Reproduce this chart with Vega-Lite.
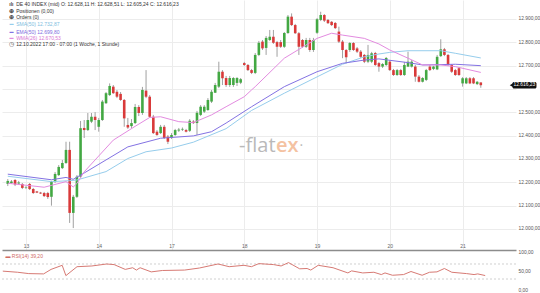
{
  "$schema": "https://vega.github.io/schema/vega-lite/v6.json",
  "padding": 0,
  "spacing": 0,
  "bounds": "flush",
  "config": {
    "view": {"stroke": null},
    "font": "Liberation Sans",
    "axis": {"title": null, "labelFont": "Liberation Sans", "labelFontSize": 5, "labelColor": "#555555", "labelOverlap": false}
  },
  "datasets": {
    "one": [{}],
    "candles": [
      {"i":0,"o":12193,"h":12214,"l":12184,"c":12206},
      {"i":1,"o":12197,"h":12210,"l":12193,"c":12204},
      {"i":2,"o":12210,"h":12214,"l":12184,"c":12191},
      {"i":3,"o":12195,"h":12206,"l":12189,"c":12199},
      {"i":4,"o":12193,"h":12197,"l":12171,"c":12176},
      {"i":5,"o":12178,"h":12184,"l":12171,"c":12180},
      {"i":6,"o":12193,"h":12197,"l":12167,"c":12171},
      {"i":7,"o":12171,"h":12176,"l":12150,"c":12154},
      {"i":8,"o":12161,"h":12163,"l":12154,"c":12156},
      {"i":9,"o":12156,"h":12159,"l":12150,"c":12152},
      {"i":10,"o":12154,"h":12159,"l":12137,"c":12141},
      {"i":11,"o":12154,"h":12159,"l":12129,"c":12137},
      {"i":12,"o":12138,"h":12206,"l":12100,"c":12203},
      {"i":13,"o":12203,"h":12244,"l":12197,"c":12236},
      {"i":14,"o":12231,"h":12274,"l":12227,"c":12266},
      {"i":15,"o":12261,"h":12296,"l":12257,"c":12283},
      {"i":16,"o":12283,"h":12374,"l":12279,"c":12339},
      {"i":17,"o":12339,"h":12374,"l":12026,"c":12069},
      {"i":18,"o":12069,"h":12146,"l":12004,"c":12138},
      {"i":19,"o":12138,"h":12231,"l":12133,"c":12224},
      {"i":20,"o":12224,"h":12463,"l":12219,"c":12432},
      {"i":21,"o":12433,"h":12467,"l":12390,"c":12424},
      {"i":22,"o":12424,"h":12497,"l":12420,"c":12467},
      {"i":23,"o":12460,"h":12497,"l":12454,"c":12481},
      {"i":24,"o":12481,"h":12501,"l":12424,"c":12467},
      {"i":25,"o":12438,"h":12476,"l":12417,"c":12467},
      {"i":26,"o":12467,"h":12553,"l":12463,"c":12546},
      {"i":27,"o":12539,"h":12587,"l":12536,"c":12582},
      {"i":28,"o":12574,"h":12624,"l":12570,"c":12613},
      {"i":29,"o":12610,"h":12617,"l":12579,"c":12582},
      {"i":30,"o":12588,"h":12596,"l":12561,"c":12567},
      {"i":31,"o":12579,"h":12587,"l":12549,"c":12553},
      {"i":32,"o":12553,"h":12557,"l":12438,"c":12474},
      {"i":33,"o":12446,"h":12476,"l":12429,"c":12435},
      {"i":34,"o":12441,"h":12471,"l":12433,"c":12454},
      {"i":35,"o":12454,"h":12536,"l":12450,"c":12523},
      {"i":36,"o":12523,"h":12531,"l":12484,"c":12497},
      {"i":37,"o":12497,"h":12609,"l":12489,"c":12596},
      {"i":38,"o":12593,"h":12681,"l":12561,"c":12567},
      {"i":39,"o":12567,"h":12574,"l":12476,"c":12481},
      {"i":40,"o":12481,"h":12489,"l":12407,"c":12411},
      {"i":41,"o":12417,"h":12424,"l":12399,"c":12403},
      {"i":42,"o":12411,"h":12446,"l":12407,"c":12438},
      {"i":43,"o":12438,"h":12446,"l":12386,"c":12390},
      {"i":44,"o":12396,"h":12403,"l":12364,"c":12374},
      {"i":45,"o":12390,"h":12411,"l":12386,"c":12403},
      {"i":46,"o":12403,"h":12429,"l":12399,"c":12424},
      {"i":47,"o":12422,"h":12433,"l":12416,"c":12426},
      {"i":48,"o":12426,"h":12435,"l":12420,"c":12429},
      {"i":49,"o":12424,"h":12429,"l":12414,"c":12417},
      {"i":50,"o":12421,"h":12471,"l":12416,"c":12464},
      {"i":51,"o":12460,"h":12467,"l":12450,"c":12454},
      {"i":52,"o":12454,"h":12506,"l":12403,"c":12498},
      {"i":53,"o":12489,"h":12531,"l":12484,"c":12524},
      {"i":54,"o":12503,"h":12531,"l":12497,"c":12524},
      {"i":55,"o":12510,"h":12561,"l":12506,"c":12553},
      {"i":56,"o":12546,"h":12596,"l":12540,"c":12588},
      {"i":57,"o":12584,"h":12626,"l":12583,"c":12617},
      {"i":58,"o":12610,"h":12717,"l":12604,"c":12674},
      {"i":59,"o":12674,"h":12681,"l":12617,"c":12646},
      {"i":60,"o":12647,"h":12656,"l":12609,"c":12617},
      {"i":61,"o":12617,"h":12656,"l":12609,"c":12647},
      {"i":62,"o":12617,"h":12651,"l":12609,"c":12647},
      {"i":63,"o":12626,"h":12651,"l":12613,"c":12647},
      {"i":64,"o":12627,"h":12647,"l":12621,"c":12642},
      {"i":65,"o":12711,"h":12716,"l":12699,"c":12703},
      {"i":66,"o":12703,"h":12707,"l":12677,"c":12681},
      {"i":67,"o":12681,"h":12686,"l":12664,"c":12669},
      {"i":68,"o":12669,"h":12754,"l":12664,"c":12746},
      {"i":69,"o":12746,"h":12806,"l":12741,"c":12798},
      {"i":70,"o":12803,"h":12810,"l":12767,"c":12774},
      {"i":71,"o":12776,"h":12827,"l":12746,"c":12819},
      {"i":72,"o":12810,"h":12853,"l":12806,"c":12824},
      {"i":73,"o":12824,"h":12853,"l":12793,"c":12798},
      {"i":74,"o":12801,"h":12806,"l":12738,"c":12781},
      {"i":75,"o":12801,"h":12810,"l":12776,"c":12781},
      {"i":76,"o":12781,"h":12844,"l":12776,"c":12840},
      {"i":77,"o":12840,"h":12917,"l":12836,"c":12910},
      {"i":78,"o":12910,"h":12924,"l":12870,"c":12874},
      {"i":79,"o":12874,"h":12879,"l":12836,"c":12839},
      {"i":80,"o":12839,"h":12844,"l":12746,"c":12781},
      {"i":81,"o":12810,"h":12814,"l":12776,"c":12781},
      {"i":82,"o":12781,"h":12819,"l":12776,"c":12810},
      {"i":83,"o":12810,"h":12819,"l":12759,"c":12767},
      {"i":84,"o":12767,"h":12819,"l":12759,"c":12810},
      {"i":85,"o":12841,"h":12904,"l":12836,"c":12899},
      {"i":86,"o":12896,"h":12931,"l":12891,"c":12917},
      {"i":87,"o":12917,"h":12921,"l":12887,"c":12893},
      {"i":88,"o":12896,"h":12900,"l":12879,"c":12882},
      {"i":89,"o":12888,"h":12891,"l":12870,"c":12874},
      {"i":90,"o":12883,"h":12887,"l":12857,"c":12861},
      {"i":91,"o":12846,"h":12867,"l":12797,"c":12803},
      {"i":92,"o":12803,"h":12810,"l":12732,"c":12767},
      {"i":93,"o":12767,"h":12771,"l":12710,"c":12736},
      {"i":94,"o":12767,"h":12801,"l":12759,"c":12797},
      {"i":95,"o":12797,"h":12801,"l":12763,"c":12767},
      {"i":96,"o":12774,"h":12780,"l":12754,"c":12760},
      {"i":97,"o":12760,"h":12767,"l":12733,"c":12738},
      {"i":98,"o":12746,"h":12750,"l":12711,"c":12717},
      {"i":99,"o":12717,"h":12789,"l":12711,"c":12746},
      {"i":100,"o":12717,"h":12759,"l":12711,"c":12753},
      {"i":101,"o":12754,"h":12759,"l":12699,"c":12703},
      {"i":102,"o":12711,"h":12716,"l":12674,"c":12696},
      {"i":103,"o":12696,"h":12711,"l":12690,"c":12707},
      {"i":104,"o":12703,"h":12737,"l":12699,"c":12733},
      {"i":105,"o":12717,"h":12724,"l":12677,"c":12681},
      {"i":106,"o":12681,"h":12686,"l":12656,"c":12660},
      {"i":107,"o":12660,"h":12686,"l":12656,"c":12681},
      {"i":108,"o":12681,"h":12686,"l":12656,"c":12660},
      {"i":109,"o":12660,"h":12716,"l":12656,"c":12703},
      {"i":110,"o":12696,"h":12760,"l":12694,"c":12717},
      {"i":111,"o":12696,"h":12724,"l":12692,"c":12717},
      {"i":112,"o":12696,"h":12703,"l":12631,"c":12653},
      {"i":113,"o":12653,"h":12660,"l":12628,"c":12631},
      {"i":114,"o":12631,"h":12651,"l":12628,"c":12647},
      {"i":115,"o":12639,"h":12686,"l":12634,"c":12681},
      {"i":116,"o":12696,"h":12703,"l":12677,"c":12681},
      {"i":117,"o":12686,"h":12699,"l":12681,"c":12696},
      {"i":118,"o":12684,"h":12746,"l":12681,"c":12738},
      {"i":119,"o":12741,"h":12813,"l":12737,"c":12770},
      {"i":120,"o":12770,"h":12776,"l":12741,"c":12746},
      {"i":121,"o":12746,"h":12750,"l":12699,"c":12703},
      {"i":122,"o":12703,"h":12707,"l":12669,"c":12674},
      {"i":123,"o":12681,"h":12686,"l":12656,"c":12660},
      {"i":124,"o":12689,"h":12694,"l":12656,"c":12660},
      {"i":125,"o":12624,"h":12651,"l":12610,"c":12646},
      {"i":126,"o":12624,"h":12651,"l":12621,"c":12646},
      {"i":127,"o":12646,"h":12651,"l":12621,"c":12624},
      {"i":128,"o":12646,"h":12651,"l":12621,"c":12624},
      {"i":129,"o":12621,"h":12634,"l":12617,"c":12631},
      {"i":130,"o":12628.11,"h":12628.51,"l":12605.24,"c":12616.23}
    ],
    "ma": [
      {"i":0,"s":"SMA","v":12226},{"i":12,"s":"SMA","v":12203},{"i":17,"s":"SMA","v":12207},{"i":19,"s":"SMA","v":12210},{"i":21,"s":"SMA","v":12219},{"i":27,"s":"SMA","v":12246},{"i":33,"s":"SMA","v":12302},{"i":38,"s":"SMA","v":12331},{"i":45,"s":"SMA","v":12347},{"i":51,"s":"SMA","v":12372},{"i":60,"s":"SMA","v":12430},{"i":67,"s":"SMA","v":12508},{"i":76,"s":"SMA","v":12582},{"i":85,"s":"SMA","v":12652},{"i":92,"s":"SMA","v":12706},{"i":98,"s":"SMA","v":12738},{"i":102,"s":"SMA","v":12750},{"i":105,"s":"SMA","v":12757},{"i":110,"s":"SMA","v":12764},{"i":119,"s":"SMA","v":12764},{"i":123,"s":"SMA","v":12753},{"i":130,"s":"SMA","v":12733},
      {"i":0,"s":"EMA","v":12235},{"i":12,"s":"EMA","v":12211},{"i":16,"s":"EMA","v":12221},{"i":18,"s":"EMA","v":12213},{"i":21,"s":"EMA","v":12240},{"i":27,"s":"EMA","v":12296},{"i":33,"s":"EMA","v":12352},{"i":42,"s":"EMA","v":12389},{"i":51,"s":"EMA","v":12399},{"i":56,"s":"EMA","v":12417},{"i":60,"s":"EMA","v":12454},{"i":67,"s":"EMA","v":12524},{"i":76,"s":"EMA","v":12610},{"i":85,"s":"EMA","v":12674},{"i":92,"s":"EMA","v":12710},{"i":98,"s":"EMA","v":12724},{"i":102,"s":"EMA","v":12729},{"i":110,"s":"EMA","v":12713},{"i":114,"s":"EMA","v":12703},{"i":123,"s":"EMA","v":12706},{"i":130,"s":"EMA","v":12700},
      {"i":0,"s":"WMA","v":12196},{"i":10,"s":"WMA","v":12179},{"i":16,"s":"WMA","v":12203},{"i":18,"s":"WMA","v":12180},{"i":19,"s":"WMA","v":12195},{"i":21,"s":"WMA","v":12245},{"i":27,"s":"WMA","v":12347},{"i":29,"s":"WMA","v":12381},{"i":35,"s":"WMA","v":12440},{"i":39,"s":"WMA","v":12478},{"i":42,"s":"WMA","v":12481},{"i":47,"s":"WMA","v":12460},{"i":51,"s":"WMA","v":12456},{"i":56,"s":"WMA","v":12489},{"i":60,"s":"WMA","v":12524},{"i":65,"s":"WMA","v":12567},{"i":67,"s":"WMA","v":12596},{"i":68,"s":"WMA","v":12610},{"i":76,"s":"WMA","v":12732},{"i":85,"s":"WMA","v":12817},{"i":89,"s":"WMA","v":12839},{"i":92,"s":"WMA","v":12831},{"i":98,"s":"WMA","v":12817},{"i":102,"s":"WMA","v":12793},{"i":105,"s":"WMA","v":12767},{"i":110,"s":"WMA","v":12732},{"i":114,"s":"WMA","v":12703},{"i":119,"s":"WMA","v":12703},{"i":123,"s":"WMA","v":12696},{"i":130,"s":"WMA","v":12671}
    ],
    "rsi": [
      {"i":0,"v":51},{"i":4,"v":48},{"i":7,"v":44.4},{"i":11,"v":43.6},{"i":13,"v":55.6},{"i":16,"v":66.5},{"i":17,"v":39},{"i":20,"v":62.8},{"i":24,"v":64.7},{"i":28,"v":70},{"i":30,"v":68.4},{"i":33,"v":55.6},{"i":35,"v":60},{"i":36,"v":53.8},{"i":37,"v":60},{"i":40,"v":49},{"i":43,"v":52.7},{"i":49,"v":53.8},{"i":53,"v":59.3},{"i":58,"v":70},{"i":61,"v":62.8},{"i":65,"v":66.5},{"i":67,"v":62.8},{"i":69,"v":71},{"i":73,"v":68.4},{"i":75,"v":64.7},{"i":77,"v":73.7},{"i":80,"v":57.2},{"i":82,"v":58},{"i":83,"v":53.8},{"i":85,"v":66.5},{"i":89,"v":60},{"i":93,"v":46.2},{"i":94,"v":51.7},{"i":97,"v":46.2},{"i":100,"v":48},{"i":102,"v":41.8},{"i":103,"v":46.2},{"i":105,"v":40},{"i":108,"v":41.8},{"i":110,"v":50},{"i":113,"v":40},{"i":115,"v":48},{"i":117,"v":49},{"i":119,"v":58},{"i":121,"v":48},{"i":125,"v":44.4},{"i":127,"v":41.8},{"i":128,"v":43.6},{"i":130,"v":39.2}
    ]
  },
  "vconcat": [
    {
      "width": 514,
      "height": 250,
      "resolve": {"axis": {"x": "independent", "y": "independent"}},
      "layer": [
        {
          "data": {"name": "candles"},
          "mark": {"type": "rule", "color": "#a0a0a0", "strokeWidth": 1, "clip": true},
          "encoding": {
            "x": {
              "field": "i", "type": "quantitative",
              "scale": {"domain": [-0.216, 138.3], "nice": false, "zero": false},
              "axis": {
                "values": [5, 25, 45, 65, 85, 105, 125],
                "labelExpr": "datum.value==5?'13':datum.value==25?'14':datum.value==45?'17':datum.value==65?'18':datum.value==85?'19':datum.value==105?'20':'21'",
                "grid": true, "gridColor": "#ececec", "gridWidth": 1,
                "ticks": false, "tickSize": 0,
                "domain": true, "domainColor": "#8c8c8c", "domainWidth": 1.5,
                "labelPadding": -2.5, "labelBaseline": "alphabetic", "labelFlush": false,
                "labelColor": "#666666", "labelFontSize": 5
              }
            },
            "y": {
              "field": "l", "type": "quantitative",
              "scale": {"domain": [11910, 12981.4], "nice": false, "zero": false},
              "axis": {
                "orient": "right",
                "values": [12000, 12100, 12200, 12300, 12400, 12500, 12600, 12700, 12800, 12900],
                "labelExpr": "datum.value==12600?'':replace(replace(replace(format(datum.value, ',.2f'), ',', '#'), '.', ','), '#', '.')",
                "grid": true, "gridColor": "#ececec", "gridWidth": 1,
                "ticks": false, "tickSize": 0, "domain": false,
                "labelPadding": 2, "labelFontSize": 4.9, "labelColor": "#555555", "labelBaseline": "middle"
              }
            },
            "y2": {"field": "h"}
          }
        },
        {
          "data": {"name": "candles"},
          "mark": {"type": "bar", "width": 2.6, "clip": true},
          "encoding": {
            "x": {"field": "i", "type": "quantitative", "axis": null},
            "y": {"field": "o", "type": "quantitative", "axis": null},
            "y2": {"field": "c"},
            "color": {"condition": {"test": "datum.c >= datum.o", "value": "#43a843"}, "value": "#d93a3a"}
          }
        },
        {
          "data": {"name": "ma"},
          "mark": {"type": "line", "strokeWidth": 1, "clip": true},
          "encoding": {
            "x": {"field": "i", "type": "quantitative", "axis": null},
            "y": {"field": "v", "type": "quantitative", "axis": null},
            "color": {"field": "s", "type": "nominal", "scale": {"domain": ["SMA", "EMA", "WMA"], "range": ["#96cdec", "#8372e3", "#e38be0"]}, "legend": null},
            "detail": {"field": "s"}
          }
        },
        {
          "data": {"name": "one"},
          "mark": {"type": "text", "text": "-flat", "align": "right", "baseline": "alphabetic", "font": "Open Sans", "fontSize": 20, "color": "#b9b9b9"},
          "encoding": {"x": {"datum": 73.6, "type": "quantitative", "axis": null}, "y": {"datum": 12330, "type": "quantitative", "axis": null}}
        },
        {
          "data": {"name": "one"},
          "mark": {"type": "text", "text": "ex", "align": "left", "baseline": "alphabetic", "font": "Open Sans", "fontSize": 20, "fontWeight": 600, "color": "#f4c2a2"},
          "encoding": {"x": {"datum": 73.7, "type": "quantitative", "axis": null}, "y": {"datum": 12330, "type": "quantitative", "axis": null}}
        },
        {
          "data": {"name": "one"},
          "mark": {"type": "text", "text": "·", "align": "center", "baseline": "alphabetic", "font": "Open Sans", "fontSize": 14, "color": "#b9b9b9"},
          "encoding": {"x": {"datum": 80.7, "type": "quantitative", "axis": null}, "y": {"datum": 12337, "type": "quantitative", "axis": null}}
        },
        {
          "data": {"name": "one"},
          "mark": {"type": "text", "text": "ılı", "align": "center", "baseline": "middle", "fontSize": 5, "fontWeight": "bold", "color": "#444444"},
          "encoding": {"x": {"datum": 1.0, "type": "quantitative", "axis": null}, "y": {"datum": 12964, "type": "quantitative", "axis": null}}
        },
        {
          "data": {"name": "one"},
          "mark": {"type": "text", "text": "DE 40 INDEX (mid)  O: 12.628,11  H: 12.628,51  L: 12.605,24  C: 12.616,23", "align": "left", "baseline": "middle", "fontSize": 5, "color": "#333333"},
          "encoding": {"x": {"datum": 2.3, "type": "quantitative", "axis": null}, "y": {"datum": 12964, "type": "quantitative", "axis": null}}
        },
        {
          "data": {"name": "one"},
          "mark": {"type": "text", "text": "⊕", "align": "center", "baseline": "middle", "fontSize": 5.5, "fontWeight": "bold", "color": "#444444"},
          "encoding": {"x": {"datum": 1.0, "type": "quantitative", "axis": null}, "y": {"datum": 12935.5, "type": "quantitative", "axis": null}}
        },
        {
          "data": {"name": "one"},
          "mark": {"type": "text", "text": "Positionen (0,00)", "align": "left", "baseline": "middle", "fontSize": 5, "color": "#333333"},
          "encoding": {"x": {"datum": 2.3, "type": "quantitative", "axis": null}, "y": {"datum": 12935.5, "type": "quantitative", "axis": null}}
        },
        {
          "data": {"name": "one"},
          "mark": {"type": "text", "text": "⊕", "align": "center", "baseline": "middle", "fontSize": 5.5, "fontWeight": "bold", "color": "#444444"},
          "encoding": {"x": {"datum": 1.0, "type": "quantitative", "axis": null}, "y": {"datum": 12907.3, "type": "quantitative", "axis": null}}
        },
        {
          "data": {"name": "one"},
          "mark": {"type": "text", "text": "Orders (0)", "align": "left", "baseline": "middle", "fontSize": 5, "color": "#333333"},
          "encoding": {"x": {"datum": 2.3, "type": "quantitative", "axis": null}, "y": {"datum": 12907.3, "type": "quantitative", "axis": null}}
        },
        {
          "data": {"name": "one"},
          "mark": {"type": "text", "text": "▬", "align": "center", "baseline": "middle", "fontSize": 4, "color": "#96cdec"},
          "encoding": {"x": {"datum": 1.0, "type": "quantitative", "axis": null}, "y": {"datum": 12877.3, "type": "quantitative", "axis": null}}
        },
        {
          "data": {"name": "one"},
          "mark": {"type": "text", "text": "SMA(50)  12.732,87", "align": "left", "baseline": "middle", "fontSize": 5, "color": "#7dbde0"},
          "encoding": {"x": {"datum": 2.3, "type": "quantitative", "axis": null}, "y": {"datum": 12877.3, "type": "quantitative", "axis": null}}
        },
        {
          "data": {"name": "one"},
          "mark": {"type": "text", "text": "▬", "align": "center", "baseline": "middle", "fontSize": 4, "color": "#8372e3"},
          "encoding": {"x": {"datum": 1.0, "type": "quantitative", "axis": null}, "y": {"datum": 12845.5, "type": "quantitative", "axis": null}}
        },
        {
          "data": {"name": "one"},
          "mark": {"type": "text", "text": "EMA(50)  12.699,80", "align": "left", "baseline": "middle", "fontSize": 5, "color": "#7d6ae0"},
          "encoding": {"x": {"datum": 2.3, "type": "quantitative", "axis": null}, "y": {"datum": 12845.5, "type": "quantitative", "axis": null}}
        },
        {
          "data": {"name": "one"},
          "mark": {"type": "text", "text": "▬", "align": "center", "baseline": "middle", "fontSize": 4, "color": "#e38be0"},
          "encoding": {"x": {"datum": 1.0, "type": "quantitative", "axis": null}, "y": {"datum": 12817.3, "type": "quantitative", "axis": null}}
        },
        {
          "data": {"name": "one"},
          "mark": {"type": "text", "text": "WMA(26)  12.670,53", "align": "left", "baseline": "middle", "fontSize": 5, "color": "#d877d4"},
          "encoding": {"x": {"datum": 2.3, "type": "quantitative", "axis": null}, "y": {"datum": 12817.3, "type": "quantitative", "axis": null}}
        },
        {
          "data": {"name": "one"},
          "mark": {"type": "text", "text": "◷", "align": "center", "baseline": "middle", "fontSize": 6, "color": "#444444"},
          "encoding": {"x": {"datum": 1.0, "type": "quantitative", "axis": null}, "y": {"datum": 12791.5, "type": "quantitative", "axis": null}}
        },
        {
          "data": {"name": "one"},
          "mark": {"type": "text", "text": "12.10.2022 17:00 - 07:00  (1 Woche, 1 Stunde)", "align": "left", "baseline": "middle", "fontSize": 5, "color": "#333333"},
          "encoding": {"x": {"datum": 2.3, "type": "quantitative", "axis": null}, "y": {"datum": 12791.5, "type": "quantitative", "axis": null}}
        },
        {
          "data": {"name": "one"},
          "mark": {"type": "rect", "color": "#111111", "cornerRadius": 1.5},
          "encoding": {
            "x": {"datum": 138.7, "type": "quantitative", "axis": null}, "x2": {"datum": 145.3},
            "y": {"datum": 12630.5, "type": "quantitative", "axis": null}, "y2": {"datum": 12602}
          }
        },
        {
          "data": {"name": "one"},
          "mark": {"type": "point", "shape": "triangle-left", "filled": true, "size": 14, "color": "#111111", "opacity": 1},
          "encoding": {"x": {"datum": 138.4, "type": "quantitative", "axis": null}, "y": {"datum": 12616.23, "type": "quantitative", "axis": null}}
        },
        {
          "data": {"name": "one"},
          "mark": {"type": "text", "text": "12.616,23", "align": "left", "baseline": "middle", "fontSize": 4.9, "color": "#ffffff"},
          "encoding": {"x": {"datum": 139.0, "type": "quantitative", "axis": null}, "y": {"datum": 12616.23, "type": "quantitative", "axis": null}}
        }
      ]
    },
    {
      "width": 514,
      "height": 43,
      "resolve": {"axis": {"x": "independent", "y": "independent"}},
      "layer": [
        {
          "data": {"values": [{"lvl": 30}, {"lvl": 70}]},
          "mark": {"type": "rule", "color": "#c4c4c4", "strokeWidth": 0.8, "strokeDash": [2, 2]},
          "encoding": {
            "y": {
              "field": "lvl", "type": "quantitative",
              "scale": {"domain": [-7.3, 107.3], "nice": false, "zero": false},
              "axis": {
                "orient": "right", "values": [0, 50, 100],
                "labelExpr": "replace(format(datum.value, '.2f'), '.', ',')",
                "grid": false, "ticks": false, "tickSize": 0, "domain": false,
                "labelPadding": 2, "labelFontSize": 4.9, "labelColor": "#555555", "labelBaseline": "middle"
              }
            }
          }
        },
        {
          "data": {"name": "rsi"},
          "mark": {"type": "line", "color": "#d77a74", "strokeWidth": 1},
          "encoding": {
            "x": {"field": "i", "type": "quantitative", "scale": {"domain": [-0.216, 138.3], "nice": false, "zero": false}, "axis": null},
            "y": {"field": "v", "type": "quantitative", "axis": null}
          }
        },
        {
          "data": {"name": "one"},
          "mark": {"type": "text", "text": "▬ RSI(14)  39,20", "align": "left", "baseline": "middle", "fontSize": 5, "color": "#d06a64"},
          "encoding": {"x": {"datum": 0.7, "type": "quantitative", "axis": null}, "y": {"datum": 91.3, "type": "quantitative", "axis": null}}
        }
      ]
    }
  ]
}
